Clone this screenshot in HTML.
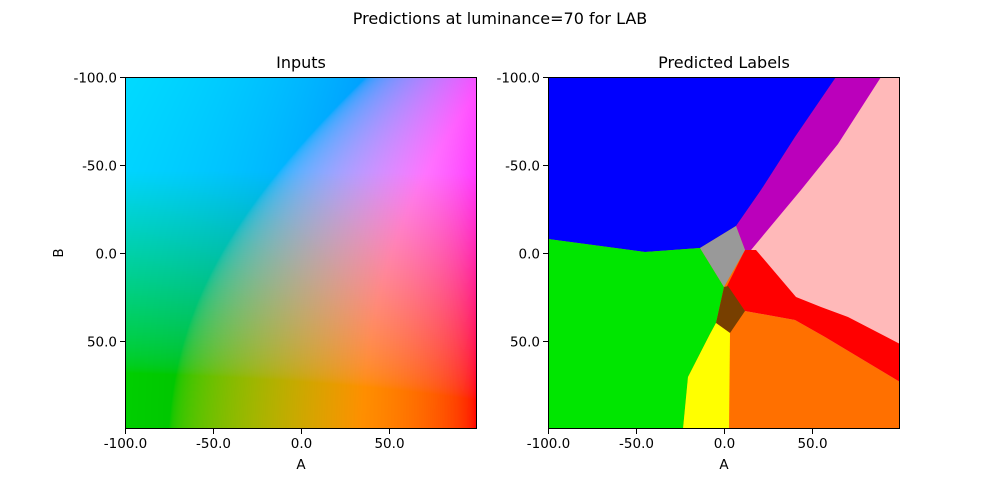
<!DOCTYPE html>
<html><head><meta charset="utf-8">
<style>
body{margin:0;background:#fff;width:1000px;height:500px;overflow:hidden;font-family:"Liberation Sans","DejaVu Sans",sans-serif;}
svg text{font-family:"DejaVu Sans","Liberation Sans",sans-serif;}
#cv{position:absolute;left:125px;top:77px;width:352px;height:352px;}
</style></head><body>
<canvas id="cv" width="352" height="352"></canvas>
<svg width="1000" height="500" style="position:absolute;left:0;top:0">
<text x="500" y="24" text-anchor="middle" font-size="16">Predictions at luminance=70 for LAB</text>
<text x="301" y="68" text-anchor="middle" font-size="16">Inputs</text>
<text x="724" y="68" text-anchor="middle" font-size="16">Predicted Labels</text>
<g transform="translate(548,77)">
<rect x="0" y="0" width="352" height="352" fill="#ff7000"/>
<polygon fill="#ffb9b9" points="333,0 352,0 352,305 277,260 247,243 197,234 197,173 203,173"/>
<polygon fill="#ff0000" points="197,173 208,173 248,220 273,230 300,240 352,267 352,305 277,260 247,243 197,234 179,209"/>
<polygon fill="#bb00bb" points="288,0 333,0 290,67 253,113 203,173 197,173 188,149 213,113 247,60"/>
<polygon fill="#0000ff" points="0,0 288,0 247,60 213,113 188,149 152,171 97,175 0,162"/>
<polygon fill="#00e600" points="0,162 97,175 152,171 176,210 168,246 162,257 140,300 135,352 0,352"/>
<polygon fill="#999999" points="152,171 188,149 197,173 176,210"/>
<polygon fill="#773f00" points="176,210 180,209 197,234 182,256 168,246"/>
<polygon fill="#ffff00" points="168,246 182,256 181,352 135,352 140,300 162,257"/>
</g>
<g id="axes" fill="none" stroke="#000" stroke-width="1"></g>
</svg>
<script>
const tickVals=[-100,-50,0,50];
const tickLabels=["-100.0","-50.0","0.0","50.0"];
const L=70;
function sx(v,x0){return x0+(v+100)*1.76;}
function sy(v){return 77+(v+100)*1.76;}
(function(){
const c=document.getElementById('cv').getContext('2d');const im=c.createImageData(352,352);
function finv(t){return t>0.2068966?t*t*t:(t-16/116)/7.787;}
function g(v){v=v>0.0031308?1.055*Math.pow(v,1/2.4)-0.055:12.92*v;return Math.max(0,Math.min(1,v));}
for(let j=0;j<352;j++)for(let i=0;i<352;i++){
const a=-100+i/1.76,b=-100+j/1.76;
const fy=(L+16)/116,fx=fy+a/500;let fz=fy-b/200;if(fz<0)fz=0;
const X=finv(fx)*0.95047,Y=finv(fy),Z=finv(fz)*1.08883;
const r=3.2404542*X-1.5371385*Y-0.4985314*Z,gg=-0.969266*X+1.8760108*Y+0.041556*Z,bb=0.0556434*X-0.2040259*Y+1.0572252*Z;
const k=(j*352+i)*4;im.data[k]=g(r)*255;im.data[k+1]=g(gg)*255;im.data[k+2]=g(bb)*255;im.data[k+3]=255;}
c.putImageData(im,0,0);})();
const ns="http://www.w3.org/2000/svg",ax=document.getElementById('axes'),svg=ax.ownerSVGElement;
function el(t,at,p){const e=document.createElementNS(ns,t);for(const k in at)e.setAttribute(k,at[k]);(p||ax).appendChild(e);return e;}
[125,548].forEach((x0,pi)=>{
const r=el('rect',{x:x0+0.5,y:77.5,width:351,height:351});


tickVals.forEach((v,i)=>{
const X=Math.round(sx(v,x0))+0.5,Y=Math.round(sy(v))+0.5;
el('line',{x1:X,y1:429,x2:X,y2:434});
el('line',{x1:x0-5,y1:Y,x2:x0,y2:Y});
const tx=el('text',{x:X,y:448,'text-anchor':'middle','font-size':13.5,fill:'#000',stroke:'none'},svg);tx.textContent=tickLabels[i];


const ty=el('text',{x:x0-8,y:Y+5,'text-anchor':'end','font-size':13.5,fill:'#000',stroke:'none'},svg);ty.textContent=tickLabels[i];


});
const xl=el('text',{x:x0+176,y:469,'text-anchor':'middle','font-size':13.5,fill:'#000',stroke:'none'},svg);xl.textContent='A';


});
const yl=el('text',{x:63,y:253,'text-anchor':'middle','font-size':13.5,fill:'#000',stroke:'none',transform:'rotate(-90 63 253)'},svg);yl.textContent='B';


</script>
</body></html>
